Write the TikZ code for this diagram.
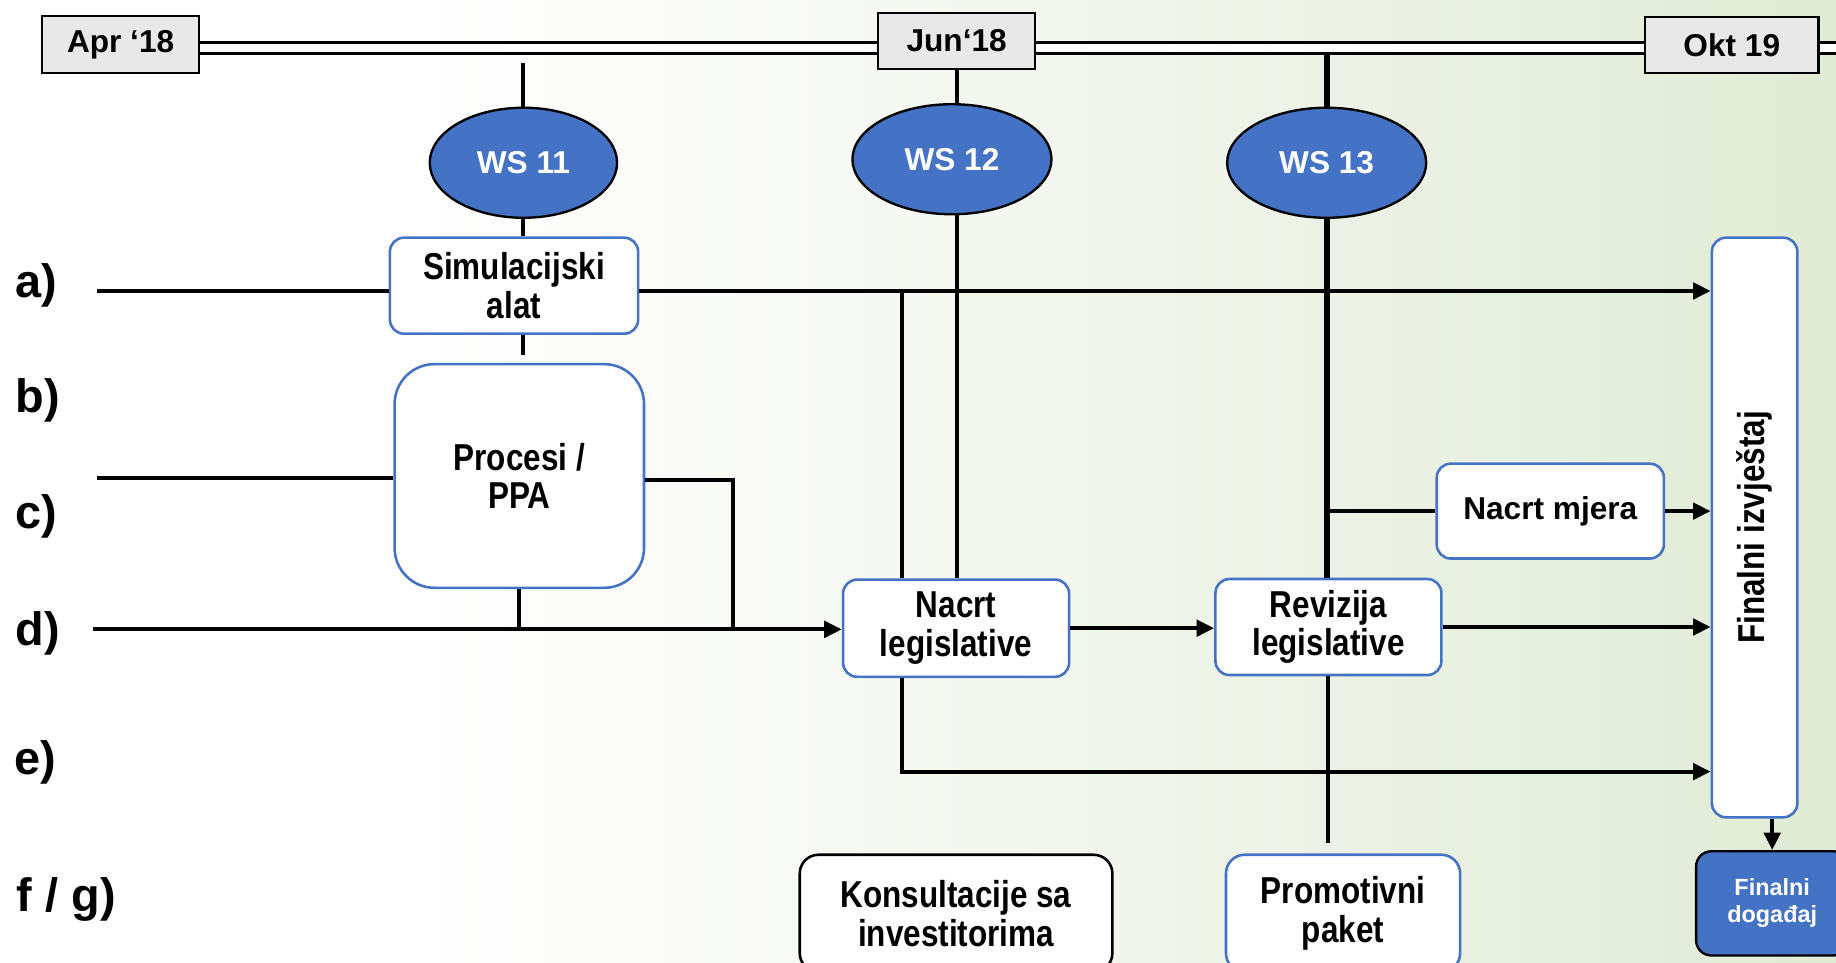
\documentclass[tikz,border=0pt]{standalone}
\usepackage{fontspec}
\setmainfont{Liberation Sans}
\newfontfamily\nb[FakeStretch=0.84]{Liberation Sans Bold}
\usetikzlibrary{shapes.geometric,arrows.meta,calc}
\definecolor{wsblue}{RGB}{68,114,196}
\definecolor{dategray}{RGB}{232,232,232}
\definecolor{bgA}{RGB}{237,243,231}
\definecolor{bgB}{RGB}{224,235,212}
\definecolor{bgM}{RGB}{247,249,244}
\pgfdeclarehorizontalshading{bgsh}{100bp}{color(0bp)=(white); color(25bp)=(white); color(36bp)=(white); color(48bp)=(bgM); color(60bp)=(bgA); color(75bp)=(bgB); color(100bp)=(bgB)}
\tikzset{
  datebox/.style={draw=black, line width=0.9pt, fill=dategray, inner sep=0pt, minimum height=24pt,
    font=\bfseries\fontsize{13.5}{15}\selectfont},
  wsnode/.style={ellipse, draw=black, line width=1pt, fill=wsblue, inner sep=0pt, text=white,
    font=\bfseries\fontsize{13.5}{15}\selectfont},
  bbox/.style={draw=wsblue, line width=1.1pt, fill=white, rounded corners=6pt, inner sep=0pt,
    align=center, font=\nb\fontsize{16}{16.5}\selectfont},
  conn/.style={draw=black, line width=1.7pt},
  thickline/.style={draw=black, line width=2.6pt},
  arr/.style={conn, -{Triangle[length=7.5pt,width=7pt]}},
  tline/.style={draw=black, line width=1.05pt, double=white, double distance=3.5pt},
  lbl/.style={anchor=west, inner sep=0pt, font=\bfseries\fontsize{20}{22}\selectfont}
}
\begin{document}
\begin{tikzpicture}[x=0.5pt,y=-0.5pt]
\useasboundingbox (0,0) rectangle (1568,822);
\clip (0,0) rectangle (1568,822);
\shade[shading=bgsh] (0,0) rectangle (1568,822);

% timeline dates
\node[datebox, minimum width=67pt] (apr) at (103,38) {Apr ‘18};
\node[datebox, minimum width=67pt] (jun) at (817,35) {Jun‘18};
\node[datebox, minimum width=74pt] (okt) at (1479,38.5) {Okt 19};
\coordinate (tl) at (0,41);
\coordinate (tlend) at (1568,41);
\draw[tline] (apr.east |- tl) -- (jun.west |- tl);
\draw[tline] (jun.east |- tl) -- (okt.west |- tl);
\draw[tline] (okt.east |- tl) -- (tlend);

% workshops
\node[wsnode, minimum width=80pt, minimum height=47pt] (ws11) at (447,139) {WS 11};
\node[wsnode, minimum width=85pt, minimum height=47pt] (ws12) at (813,136) {WS 12};
\node[wsnode, minimum width=85pt, minimum height=47pt] (ws13) at (1133,139) {WS 13};

% boxes
\node[bbox, minimum width=106pt, minimum height=41pt] (sim) at (439,244) {Simulacijski\\alat};
\node[bbox, rounded corners=17pt, minimum width=106.5pt, minimum height=95.5pt] (ppa) at (443.5,406.5) {Procesi /\\PPA};
\node[bbox, minimum width=96.5pt, minimum height=41.5pt] (nl) at (816.5,536.5) {Nacrt\\legislative};
\node[bbox, minimum width=96.5pt, minimum height=41pt] (rl) at (1134.5,535.5) {Revizija\\legislative};
\node[bbox, minimum width=97pt, minimum height=40.5pt, font=\bfseries\fontsize{13.5}{15}\selectfont] (nm) at (1324,436.5) {Nacrt mjera};
\node[bbox, minimum width=36.5pt, minimum height=247.5pt] (fi) at (1498.5,450.5) {\rotatebox{90}{\nb\fontsize{16}{16}\selectfont Finalni izvještaj}};
\node[draw=black, line width=1pt, fill=wsblue, rounded corners=6.5pt, minimum width=65pt, minimum height=44.5pt, inner sep=0pt,
  text=white, align=center, font=\bfseries\fontsize{10}{11.5}\selectfont] (fd) at (1513.5,771.5) {Finalni\\događaj};
\node[bbox, draw=black, rounded corners=8pt, minimum width=133.5pt, minimum height=50pt] (kons) at (816.5,780) {Konsultacije sa\\investitorima};
\node[bbox, rounded corners=8pt, minimum width=100pt, minimum height=50pt] (prom) at (1147,780) {Promotivni\\paket};

% row labels
\node[lbl] (la) at (13,244) {a)};
\node[lbl] (lb) at (13,342) {b)};
\node[lbl] (lc) at (13,441) {c)};
\node[lbl] (ld) at (13,541) {d)};
\node[lbl] (le) at (12,651) {e)};
\node[lbl] (lf) at (14,768) {f / g)};

% coordinates for free ends
\coordinate (ws11top) at (447,54);
\coordinate (ws13top) at (1133,44);
\coordinate (simstub) at (447,303);
\coordinate (aL) at (83,248.5);
\coordinate (eX) at (770,248.5);
\coordinate (eY) at (770,659);
\coordinate (cL) at (83,408);
\coordinate (cR) at (626,410);
\coordinate (dL) at (79,537.5);
\coordinate (rlstub) at (1137,720);

% connectors from timeline
\draw[conn] (ws11top) -- (ws11.north);
\draw[conn] (jun.south) -- (jun.south |- ws12.north);
\draw[thickline] (ws13top) -- (ws13.north);

% WS 11 column
\draw[conn] (ws11.south) -- (ws11.south |- sim.north);
\draw[conn] (ws11.south |- sim.south) -- (simstub);
\draw[conn] (ppa.south) -- (ppa.south |- dL);

% row a
\draw[conn] (aL) -- (sim.west |- aL);
\draw[arr] (sim.east |- aL) -- (fi.west |- aL);
% row c
\draw[conn] (cL) -- (ppa.west |- cL);
\draw[conn] (ppa.east |- cR) -- (cR) -- (cR |- dL);
% row d
\draw[arr] (dL) -- (nl.west |- dL);
\draw[arr] (nl.east) -- (rl.west |- nl.east);
\draw[arr] (rl.east) -- (fi.west |- rl.east);
% x=770 line and row e
\draw[conn] (eX) -- (eX |- nl.north);
\draw[arr] (eX |- nl.south) -- (eY) -- (fi.west |- eY);

% WS 12 column
\draw[conn] (jun.south |- ws12.south) -- (jun.south |- nl.north);

% WS 13 column
\draw[thickline] (ws13.south) -- (ws13.south |- rl.north);
\draw[conn] (ws13.south |- nm.west) -- (nm.west);
\draw[arr] (nm.east) -- (fi.west |- nm.east);
\draw[conn] (rl.south) -- (rl.south |- rlstub);

% final
\draw[arr] (fd.north |- fi.south) -- (fd.north);
\end{tikzpicture}
\end{document}
